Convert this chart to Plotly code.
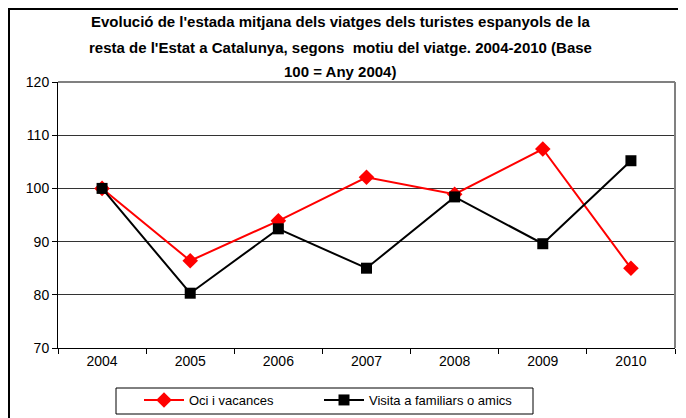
import plotly.graph_objects as go

years = ["2004", "2005", "2006", "2007", "2008", "2009", "2010"]
oci = [100, 86.4, 93.9, 102.1, 98.9, 107.4, 85.0]
visita = [100, 80.3, 92.4, 85.0, 98.4, 89.6, 105.2]
title_lines = [
    "Evolució de l'estada mitjana dels viatges dels turistes espanyols de la",
    "resta de l'Estat a Catalunya, segons  motiu del viatge. 2004-2010 (Base",
    "100 = Any 2004)",
]

OFF = 8  # page body margin
W, H = 686 - OFF, 418 - OFF
L, T = 58 - OFF, 82 - OFF
B = H - (348 - OFF)
R = W - (675 - OFF)
pw, ph = W - L - R, H - T - B
def px(x): return (x - OFF - L) / pw
def py(y): return (H - B - (y - OFF)) / ph

fig = go.Figure()
fig.add_trace(go.Scatter(x=years, y=oci, name="Oci i vacances", mode="lines+markers",
                         line=dict(color="#ff0000", width=2), legend="legend",
                         marker=dict(symbol="diamond", size=12, color="#ff0000")))
fig.add_trace(go.Scatter(x=years, y=visita, name="Visita a familiars o amics", mode="lines+markers",
                         line=dict(color="#000000", width=2), legend="legend2",
                         marker=dict(symbol="square", size=11, color="#000000")))

annotations = []
for line, yc in zip(title_lines, [22, 47, 71]):
    annotations.append(dict(text="<b>" + line + "</b>", xref="paper", yref="paper",
                            x=px(340), y=py(yc), xanchor="center", yanchor="middle",
                            showarrow=False, font=dict(size=15, family="Liberation Sans, Arial")))

leg_common = dict(orientation="h", xanchor="left", yanchor="top", y=py(385),
                  borderwidth=0, bgcolor="rgba(0,0,0,0)", font=dict(size=13),
                  itemwidth=40, valign="middle")

fig.update_layout(
    width=W, height=H, margin=dict(l=L, r=R, t=T, b=B, autoexpand=False),
    paper_bgcolor="white", plot_bgcolor="white",
    font=dict(family="Liberation Sans, Arial", size=14, color="black"),
    xaxis=dict(showgrid=False, showline=True, linecolor="black", linewidth=1,
               ticks="outside", ticklen=5, tickcolor="black", tickson="boundaries",
               mirror=False, range=[-0.5, 6.5], tickfont=dict(size=14), automargin=False),
    yaxis=dict(range=[70, 120], dtick=10, showgrid=True, gridcolor="#333333", gridwidth=1,
               showline=True, linecolor="black", linewidth=1, ticks="outside", ticklen=5,
               tickcolor="black", tickfont=dict(size=14), zeroline=False, automargin=False),
    legend=dict(x=px(139), **leg_common),
    legend2=dict(x=px(319), **leg_common),
    showlegend=True,
    annotations=annotations,
    shapes=[
        dict(type="rect", xref="paper", yref="paper", x0=px(9), x1=px(700), y0=py(430), y1=py(9),
             line=dict(color="black", width=2), layer="below"),
        dict(type="rect", xref="paper", yref="paper", x0=px(116), x1=px(533), y0=py(414), y1=py(388),
             line=dict(color="black", width=1), fillcolor="white", layer="below"),
        dict(type="line", xref="paper", yref="paper", x0=0, x1=1, y0=1, y1=1,
             line=dict(color="#808080", width=2)),
        dict(type="line", xref="paper", yref="paper", x0=1, x1=1, y0=0, y1=1,
             line=dict(color="#808080", width=2)),
    ],
)
fig.write_html("out.html")
